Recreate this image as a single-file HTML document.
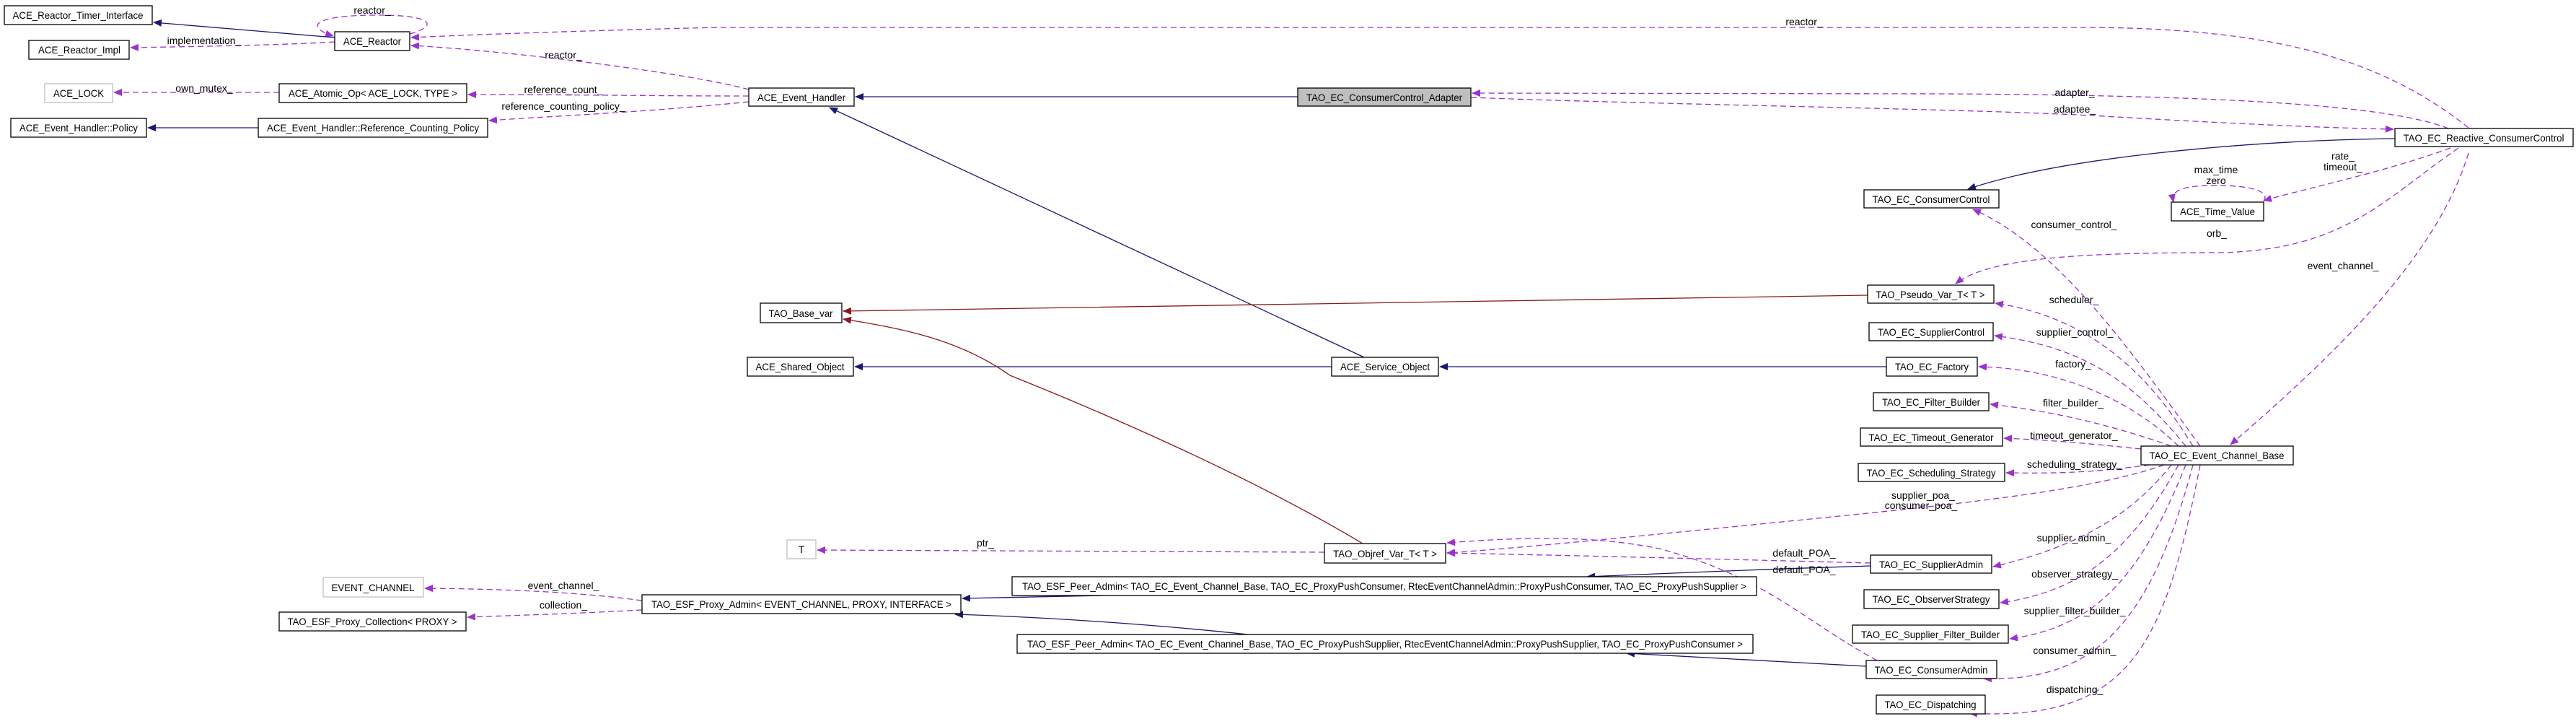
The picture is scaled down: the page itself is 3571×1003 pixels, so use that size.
<!DOCTYPE html>
<html><head><meta charset="utf-8"><style>
html,body{margin:0;padding:0;background:#fff;}
svg{display:block;}
text{font-family:"Liberation Sans",sans-serif;font-size:14px;fill:#000;}
.n{fill:#fff;stroke:#000;stroke-width:1.3;}
.g{fill:#fff;stroke:#bfbfbf;stroke-width:1.3;}
.p{fill:none;stroke:#9a32cd;stroke-width:1.3;stroke-dasharray:8,5;}
.b{fill:none;stroke:#191970;stroke-width:1.3;}
.r{fill:none;stroke:#8b1a1a;stroke-width:1.3;}
</style></head><body>
<svg width="3571" height="1003" viewBox="0 0 3571 1003" xmlns="http://www.w3.org/2000/svg">
<defs>
<marker id="ap" markerWidth="12" markerHeight="10" refX="11" refY="5" orient="auto" markerUnits="userSpaceOnUse"><path d="M0,0 L12,5 L0,10 z" fill="#9a32cd"/></marker>
<marker id="ab" markerWidth="12" markerHeight="10" refX="11" refY="5" orient="auto" markerUnits="userSpaceOnUse"><path d="M0,0 L12,5 L0,10 z" fill="#191970"/></marker>
<marker id="ar" markerWidth="12" markerHeight="10" refX="11" refY="5" orient="auto" markerUnits="userSpaceOnUse"><path d="M0,0 L12,5 L0,10 z" fill="#8b1a1a"/></marker>
</defs>

<!-- purple edges -->
<g marker-end="url(#ap)">
<path class="p" d="M568,47 C610,35 600,20 516,21 C430,22 425,38 462,50"/>
<path class="p" d="M464,58 C400,62 300,64 181,66"/>
<path class="p" d="M3422,177 C3300,80 3150,40 2900,38 L1000,38 C900,40 700,46 570,52"/>
<path class="p" d="M1038,124 C950,100 700,70 570,63"/>
<path class="p" d="M387,128 L158,128"/>
<path class="p" d="M1038,133 C900,133 800,131 649,131"/>
<path class="p" d="M1038,141 C900,155 780,160 678,167"/>
<path class="p" d="M3394,178 C3300,140 3000,132 2700,130 L2041,129"/>
<path class="p" d="M2039,135 C2300,145 2700,150 2900,160 C3100,172 3250,178 3318,179"/>
<path class="p" d="M3397,205 C3300,240 3200,260 3138,278"/>
<path class="p" d="M3138,279 C3150,260 3100,257 3073,257 C3020,257 3010,265 3013,280"/>
<path class="p" d="M3408,205 C3300,280 3250,345 3080,350 C2900,350 2760,355 2711,393"/>
<path class="p" d="M3422,212 C3380,350 3250,480 3092,616"/>
<path class="p" d="M3050,618 C2950,480 2850,340 2735,290"/>
<path class="p" d="M3040,618 C2980,520 2900,440 2766,420"/>
<path class="p" d="M3030,618 C2950,520 2880,480 2765,465"/>
<path class="p" d="M3020,618 C2950,550 2850,510 2743,508"/>
<path class="p" d="M3010,618 C2930,590 2850,570 2759,560"/>
<path class="p" d="M2968,622 C2900,615 2850,610 2778,607"/>
<path class="p" d="M2980,644 C2900,655 2850,656 2781,655"/>
<path class="p" d="M3000,644 C2900,680 2700,700 2500,720 C2300,740 2100,760 2006,766"/>
<path class="p" d="M2593,780 C2400,775 2200,770 2006,766"/>
<path class="p" d="M2602,915 C2500,860 2450,800 2300,760 C2200,740 2100,745 2006,752"/>
<path class="p" d="M3010,644 C2950,720 2870,760 2763,785"/>
<path class="p" d="M3020,644 C2950,770 2880,820 2773,835"/>
<path class="p" d="M3030,644 C2960,820 2890,870 2786,885"/>
<path class="p" d="M3040,644 C2980,870 2900,945 2750,940"/>
<path class="p" d="M3050,644 C3000,900 2950,1000 2730,988"/>
<path class="p" d="M1836,765 L1133,762"/>
<path class="p" d="M890,832 C800,820 700,816 589,815"/>
<path class="p" d="M890,845 C800,850 700,853 648,855"/>
</g>

<!-- blue edges -->
<g marker-end="url(#ab)">
<path class="b" d="M464,52 L213,31"/>
<path class="b" d="M358,177 L205,177"/>
<path class="b" d="M1799,134 L1186,134"/>
<path class="b" d="M1891,495 L1150,149"/>
<path class="b" d="M2615,508 L1996,508"/>
<path class="b" d="M1846,508 L1185,508"/>
<path class="b" d="M3320,192 C3100,195 2850,220 2728,262"/>
<path class="b" d="M2593,784 C2400,790 2300,795 2200,799"/>
<path class="b" d="M2587,923 C2450,915 2350,910 2255,905"/>
<path class="b" d="M1529,825 L1334,829"/>
<path class="b" d="M1730,879 C1600,865 1450,855 1324,851"/>
</g>

<!-- red edges -->
<g marker-end="url(#ar)">
<path class="r" d="M2589,409 C2000,415 1600,425 1169,431"/>
<path class="r" d="M1889,753 C1700,640 1450,540 1400,520 C1330,470 1250,455 1169,442"/>
</g>

<!-- nodes -->
<g>
<rect class="n" x="6" y="8" width="205" height="26"/><text x="108" y="26" text-anchor="middle" textLength="181" lengthAdjust="spacingAndGlyphs">ACE_Reactor_Timer_Interface</text>
<rect class="n" x="40" y="56" width="139" height="26"/><text x="110" y="74" text-anchor="middle" textLength="114" lengthAdjust="spacingAndGlyphs">ACE_Reactor_Impl</text>
<rect class="n" x="464" y="44" width="104" height="26"/><text x="516" y="62" text-anchor="middle" textLength="80" lengthAdjust="spacingAndGlyphs">ACE_Reactor</text>
<rect class="g" x="62" y="116" width="94" height="26"/><text x="109" y="134" text-anchor="middle" textLength="70" lengthAdjust="spacingAndGlyphs">ACE_LOCK</text>
<rect class="n" x="387" y="116" width="260" height="26"/><text x="517" y="134" text-anchor="middle" textLength="234" lengthAdjust="spacingAndGlyphs">ACE_Atomic_Op&lt; ACE_LOCK, TYPE &gt;</text>
<rect class="n" x="15" y="164" width="188" height="26"/><text x="109" y="182" text-anchor="middle" textLength="164" lengthAdjust="spacingAndGlyphs">ACE_Event_Handler::Policy</text>
<rect class="n" x="358" y="164" width="318" height="26"/><text x="517" y="182" text-anchor="middle" textLength="294" lengthAdjust="spacingAndGlyphs">ACE_Event_Handler::Reference_Counting_Policy</text>
<rect class="n" x="1038" y="122" width="146" height="25"/><text x="1111" y="140" text-anchor="middle" textLength="122" lengthAdjust="spacingAndGlyphs">ACE_Event_Handler</text>
<rect x="1799" y="122" width="240" height="25" fill="#bfbfbf" stroke="#000" stroke-width="1.3"/><text x="1919" y="140" text-anchor="middle" textLength="216" lengthAdjust="spacingAndGlyphs">TAO_EC_ConsumerControl_Adapter</text>
<rect class="n" x="3320" y="178" width="247" height="25"/><text x="3443" y="196" text-anchor="middle" textLength="223" lengthAdjust="spacingAndGlyphs">TAO_EC_Reactive_ConsumerControl</text>
<rect class="n" x="2584" y="263" width="187" height="25"/><text x="2677" y="281" text-anchor="middle" textLength="163" lengthAdjust="spacingAndGlyphs">TAO_EC_ConsumerControl</text>
<rect class="n" x="3010" y="280" width="128" height="26"/><text x="3074" y="298" text-anchor="middle" textLength="104" lengthAdjust="spacingAndGlyphs">ACE_Time_Value</text>
<rect class="n" x="2589" y="395" width="175" height="25"/><text x="2676" y="413" text-anchor="middle" textLength="151" lengthAdjust="spacingAndGlyphs">TAO_Pseudo_Var_T&lt; T &gt;</text>
<rect class="n" x="1054" y="420" width="113" height="27"/><text x="1110" y="439" text-anchor="middle" textLength="89" lengthAdjust="spacingAndGlyphs">TAO_Base_var</text>
<rect class="n" x="2591" y="447" width="172" height="25"/><text x="2677" y="465" text-anchor="middle" textLength="148" lengthAdjust="spacingAndGlyphs">TAO_EC_SupplierControl</text>
<rect class="n" x="1036" y="495" width="147" height="26"/><text x="1109" y="513" text-anchor="middle" textLength="123" lengthAdjust="spacingAndGlyphs">ACE_Shared_Object</text>
<rect class="n" x="1846" y="495" width="148" height="26"/><text x="1920" y="513" text-anchor="middle" textLength="124" lengthAdjust="spacingAndGlyphs">ACE_Service_Object</text>
<rect class="n" x="2615" y="495" width="126" height="26"/><text x="2678" y="513" text-anchor="middle" textLength="102" lengthAdjust="spacingAndGlyphs">TAO_EC_Factory</text>
<rect class="n" x="2597" y="544" width="160" height="25"/><text x="2677" y="562" text-anchor="middle" textLength="136" lengthAdjust="spacingAndGlyphs">TAO_EC_Filter_Builder</text>
<rect class="n" x="2579" y="593" width="197" height="25"/><text x="2677" y="611" text-anchor="middle" textLength="173" lengthAdjust="spacingAndGlyphs">TAO_EC_Timeout_Generator</text>
<rect class="n" x="2968" y="618" width="211" height="26"/><text x="3073" y="636" text-anchor="middle" textLength="187" lengthAdjust="spacingAndGlyphs">TAO_EC_Event_Channel_Base</text>
<rect class="n" x="2576" y="642" width="203" height="25"/><text x="2677" y="660" text-anchor="middle" textLength="179" lengthAdjust="spacingAndGlyphs">TAO_EC_Scheduling_Strategy</text>
<rect class="g" x="1091" y="748" width="40" height="26"/><text x="1111" y="766" text-anchor="middle">T</text>
<rect class="n" x="1836" y="753" width="168" height="27"/><text x="1920" y="772" text-anchor="middle" textLength="144" lengthAdjust="spacingAndGlyphs">TAO_Objref_Var_T&lt; T &gt;</text>
<rect class="n" x="2593" y="769" width="168" height="25"/><text x="2677" y="787" text-anchor="middle" textLength="144" lengthAdjust="spacingAndGlyphs">TAO_EC_SupplierAdmin</text>
<rect class="n" x="1403" y="799" width="1032" height="26"/><text x="1919" y="817" text-anchor="middle" textLength="1004" lengthAdjust="spacingAndGlyphs">TAO_ESF_Peer_Admin&lt; TAO_EC_Event_Channel_Base, TAO_EC_ProxyPushConsumer, RtecEventChannelAdmin::ProxyPushConsumer, TAO_EC_ProxyPushSupplier &gt;</text>
<rect class="g" x="448" y="800" width="139" height="27"/><text x="517" y="819" text-anchor="middle" textLength="115" lengthAdjust="spacingAndGlyphs">EVENT_CHANNEL</text>
<rect class="n" x="2584" y="817" width="187" height="26"/><text x="2677" y="835" text-anchor="middle" textLength="163" lengthAdjust="spacingAndGlyphs">TAO_EC_ObserverStrategy</text>
<rect class="n" x="890" y="824" width="442" height="26"/><text x="1111" y="842" text-anchor="middle" textLength="416" lengthAdjust="spacingAndGlyphs">TAO_ESF_Proxy_Admin&lt; EVENT_CHANNEL, PROXY, INTERFACE &gt;</text>
<rect class="n" x="387" y="848" width="259" height="26"/><text x="516" y="866" text-anchor="middle" textLength="235" lengthAdjust="spacingAndGlyphs">TAO_ESF_Proxy_Collection&lt; PROXY &gt;</text>
<rect class="n" x="2568" y="866" width="216" height="25"/><text x="2676" y="884" text-anchor="middle" textLength="192" lengthAdjust="spacingAndGlyphs">TAO_EC_Supplier_Filter_Builder</text>
<rect class="n" x="1410" y="879" width="1020" height="26"/><text x="1920" y="897" text-anchor="middle" textLength="992" lengthAdjust="spacingAndGlyphs">TAO_ESF_Peer_Admin&lt; TAO_EC_Event_Channel_Base, TAO_EC_ProxyPushSupplier, RtecEventChannelAdmin::ProxyPushSupplier, TAO_EC_ProxyPushConsumer &gt;</text>
<rect class="n" x="2587" y="915" width="181" height="25"/><text x="2677" y="933" text-anchor="middle" textLength="157" lengthAdjust="spacingAndGlyphs">TAO_EC_ConsumerAdmin</text>
<rect class="n" x="2601" y="963" width="151" height="26"/><text x="2676" y="981" text-anchor="middle" textLength="127" lengthAdjust="spacingAndGlyphs">TAO_EC_Dispatching</text>
</g>

<!-- edge labels -->
<g text-anchor="middle">
<text x="516" y="19">reactor_</text>
<text x="283" y="61">implementation_</text>
<text x="781" y="81">reactor_</text>
<text x="283" y="127">own_mutex_</text>
<text x="781" y="129">reference_count_</text>
<text x="781" y="152">reference_counting_policy_</text>
<text x="2501" y="35">reactor_</text>
<text x="2876" y="133">adapter_</text>
<text x="2876" y="156">adaptee_</text>
<text x="3248" y="221">rate_</text>
<text x="3248" y="236">timeout_</text>
<text x="3072" y="240">max_time</text>
<text x="3072" y="255">zero</text>
<text x="2875" y="316">consumer_control_</text>
<text x="3073" y="328">orb_</text>
<text x="3248" y="373">event_channel_</text>
<text x="2875" y="420">scheduler_</text>
<text x="2876" y="465">supplier_control_</text>
<text x="2874" y="509">factory_</text>
<text x="2874" y="563">filter_builder_</text>
<text x="2875" y="608">timeout_generator_</text>
<text x="2876" y="648">scheduling_strategy_</text>
<text x="2666" y="691">supplier_poa_</text>
<text x="2663" y="705">consumer_poa_</text>
<text x="2875" y="750">supplier_admin_</text>
<text x="1366" y="757">ptr_</text>
<text x="2501" y="771">default_POA_</text>
<text x="2501" y="794">default_POA_</text>
<text x="2876" y="800">observer_strategy_</text>
<text x="781" y="816">event_channel_</text>
<text x="781" y="843">collection_</text>
<text x="2876" y="851">supplier_filter_builder_</text>
<text x="2876" y="906">consumer_admin_</text>
<text x="2876" y="960">dispatching_</text>
</g>
</svg>
</body></html>
